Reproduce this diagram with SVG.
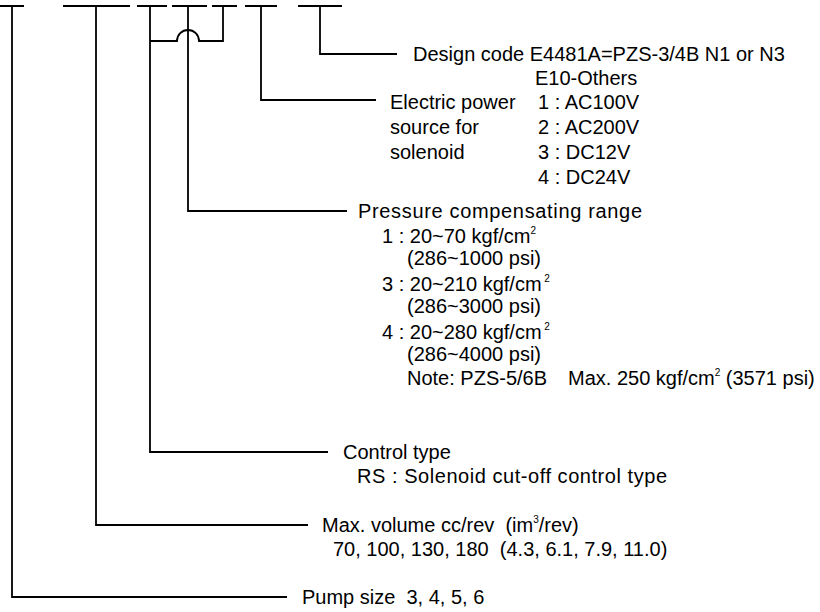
<svg xmlns="http://www.w3.org/2000/svg" width="820" height="612" viewBox="0 0 820 612">
<style>
.ln{fill:none;stroke:#000;stroke-width:1.8;stroke-linecap:butt}
text{font-family:"Liberation Sans",Arial,sans-serif;font-size:20px;fill:#000}
.sup{font-size:10px}
</style>
<rect width="820" height="612" fill="#fff"/>
<g id="connectors">
<path class="ln" d="M0 6H24M12 6V597H287"/>
<path class="ln" d="M63 6H130M96 6V525H308"/>
<path class="ln" d="M137 6H167M150 6V452H328"/>
<path class="ln" d="M172 6H207M188 6V211H347"/>
<path class="ln" d="M212 6H237M223 6V41H199A11 11 0 0 0 177 41H150"/>
<path class="ln" d="M245 6H277M261 6V100H376"/>
<path class="ln" d="M298 6H342M320 6V54H397"/>
</g>
<g id="design-code">
<text x="413" y="61">Design code E4481A=PZS-3/4B N1 or N3</text>
<text x="535" y="85">E10-Others</text>
</g>
<g id="electric-power">
<text x="390" y="109">Electric power</text>
<text x="390" y="134">source for</text>
<text x="390" y="159">solenoid</text>
<text x="538" y="109">1 : AC100V</text>
<text x="538" y="134">2 : AC200V</text>
<text x="538" y="159">3 : DC12V</text>
<text x="538" y="184">4 : DC24V</text>
</g>
<g id="pressure">
<text x="358" y="218" textLength="284" lengthAdjust="spacing">Pressure compensating range</text>
<text x="382" y="243">1 : 20~70 kgf/cm<tspan class="sup" dy="-9">2</tspan></text>
<text x="407" y="265">(286~1000 psi)</text>
<text x="382" y="291">3 : 20~210 kgf/cm<tspan class="sup" dy="-9"> 2</tspan></text>
<text x="407" y="313">(286~3000 psi)</text>
<text x="382" y="339">4 : 20~280 kgf/cm<tspan class="sup" dy="-9"> 2</tspan></text>
<text x="407" y="361">(286~4000 psi)</text>
<text x="407" y="385" xml:space="preserve">Note: PZS-5/6B<tspan x="568">Max. 250 kgf/cm</tspan><tspan class="sup" dy="-9">2</tspan><tspan dy="9"> (3571 psi)</tspan></text>
</g>
<g id="control-type">
<text x="343" y="459">Control type</text>
<text x="357" y="483" textLength="310" lengthAdjust="spacing">RS : Solenoid cut-off control type</text>
</g>
<g id="max-volume">
<text x="322" y="532" xml:space="preserve">Max. volume cc/rev  (im<tspan class="sup" dy="-9">3</tspan><tspan dy="9">/rev)</tspan></text>
<text x="333" y="556" xml:space="preserve">70, 100, 130, 180  (4.3, 6.1, 7.9, 11.0)</text>
</g>
<g id="pump-size">
<text x="302" y="604" xml:space="preserve">Pump size  3, 4, 5, 6</text>
</g>
</svg>
